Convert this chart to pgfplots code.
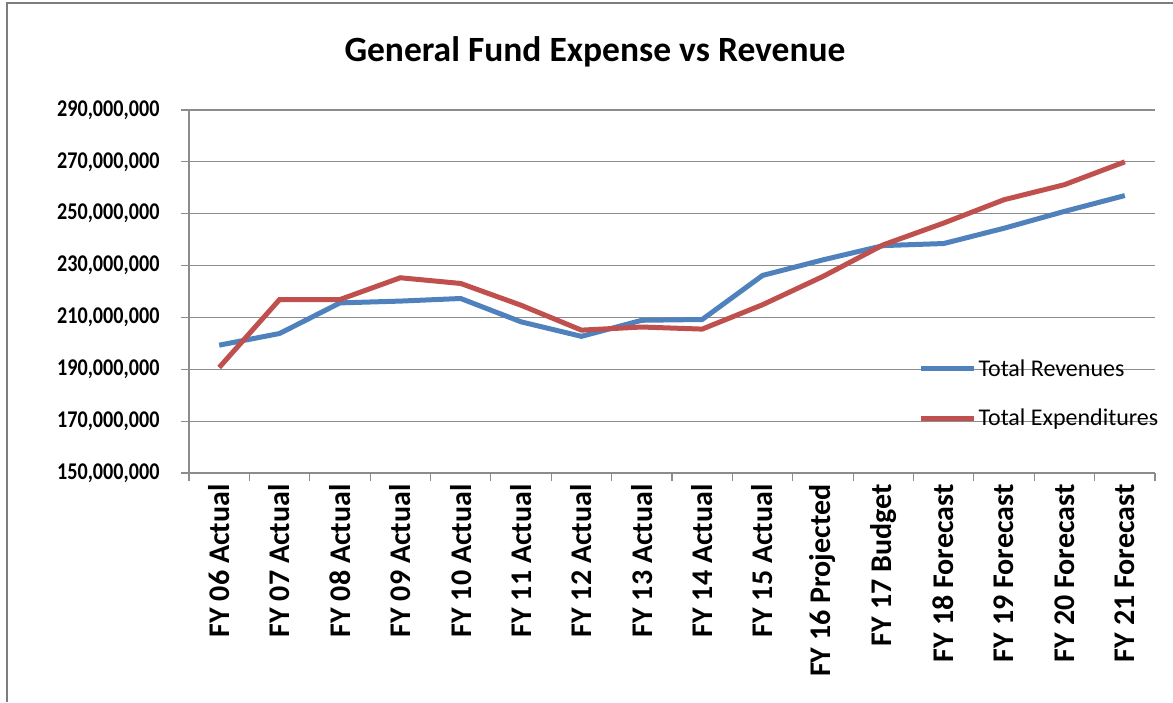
\documentclass[border=0pt]{standalone}
\usepackage{pgfplots}
\pgfplotsset{compat=1.18}
\usepackage{fontspec}
\setmainfont{Carlito}
\newfontfamily\ytickfont{Carlito}[FakeStretch=0.84]
\definecolor{rev}{HTML}{4F81BD}
\definecolor{exp}{HTML}{C0504D}
\definecolor{gridc}{HTML}{8C8C8C}
\begin{document}
\begin{tikzpicture}[x=1pt,y=1pt]
\path[use as bounding box] (0,0) rectangle (1173,702);
\draw[gridc!90!black, line width=2.2pt] (7,0) -- (7,699) -- (1173,699);
\node[font=\fontsize{35.5}{42}\selectfont\bfseries] at (595,650) {General Fund Expense vs Revenue};
\begin{axis}[
  at={(189pt,229pt)}, anchor=south west,
  width=966pt, height=363pt, scale only axis,
  xmin=-0.5, xmax=15.5,
  ymin=150000000, ymax=290000000,
  axis x line*=bottom, axis y line*=left,
  axis line style={gridc, line width=1.2pt, -},
  xtick={0,...,15},
  xticklabels={FY 06 Actual,FY 07 Actual,FY 08 Actual,FY 09 Actual,FY 10 Actual,FY 11 Actual,FY 12 Actual,FY 13 Actual,FY 14 Actual,FY 15 Actual,FY 16 Projected,FY 17 Budget,FY 18 Forecast,FY 19 Forecast,FY 20 Forecast,FY 21 Forecast},
  major x tick style={draw=none},
  minor xtick={-0.5,0.5,...,15.5},
  minor x tick style={gridc, line width=1.2pt},
  minor tick length=8pt,
  ytick={150000000,170000000,...,290000000},
  major y tick style={gridc, line width=1.2pt},
  major tick length=8pt,
  tick align=outside,
  ymajorgrids,
  major grid style={gridc, line width=1.2pt},
  scaled y ticks=false,
  /pgf/number format/fixed, /pgf/number format/precision=0,
  /pgf/number format/1000 sep={,}, /pgf/number format/assume math mode=true,
  yticklabel style={font=\ytickfont\fontsize{24}{29}\selectfont\bfseries, xshift=-18pt},
  xticklabel style={rotate=90, anchor=east, font=\fontsize{30}{36}\selectfont\bfseries},
  legend style={at={(axis description cs:0.755,0.318)}, anchor=north west, draw=none, fill=none,
    font=\fontsize{24}{29}\selectfont, row sep=27pt, inner sep=0pt,
    /tikz/every even column/.append style={column sep=2pt}},
  legend cell align=left,
  legend image code/.code={\draw[#1, line width=5pt] (0pt,0pt) -- (53pt,0pt);},
]
\addplot[rev, line width=5pt] coordinates {
(0,199300000) (1,203800000) (2,215600000) (3,216300000) (4,217300000) (5,208300000)
(6,202700000) (7,208900000) (8,209200000) (9,226200000) (10,232200000) (11,237700000)
(12,238500000) (13,244400000) (14,250900000) (15,257000000)};
\addlegendentry{Total Revenues}
\addplot[exp, line width=5pt] coordinates {
(0,190700000) (1,216900000) (2,216900000) (3,225300000) (4,223100000) (5,214700000)
(6,205100000) (7,206300000) (8,205500000) (9,214900000) (10,225800000) (11,238000000)
(12,246400000) (13,255400000) (14,261200000) (15,270000000)};
\addlegendentry{Total Expenditures}
\end{axis}
\end{tikzpicture}
\end{document}
